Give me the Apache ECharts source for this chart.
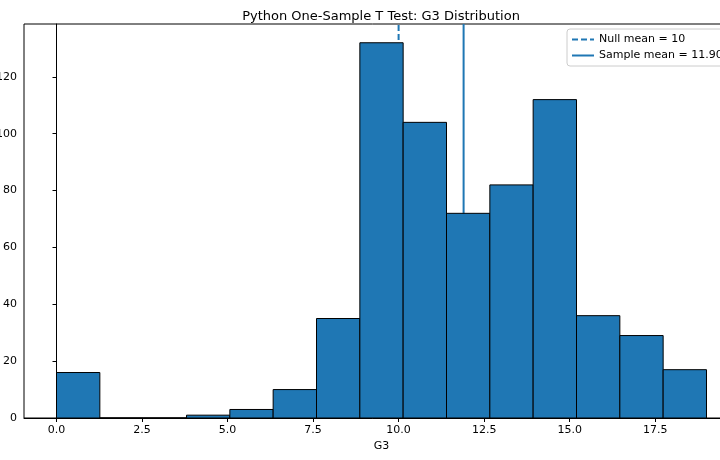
<!DOCTYPE html>
<html>
<head>
<meta charset="utf-8">
<script src="https://cdn.jsdelivr.net/npm/echarts@6/dist/echarts.min.js"></script>
<style>
  html, body { margin: 0; padding: 0; background: #fff; }
  #chart { width: 720px; height: 460px; }
</style>
</head>
<body>
<div id="chart"></div>
<script>
(function () {
  // bin edges and counts of the G3 histogram (15 bins)
  var binEdges = [0, 1.267, 2.533, 3.8, 5.067, 6.333, 7.6, 8.867, 10.133, 11.4, 12.667, 13.933, 15.2, 16.467, 17.733, 19];
  var binCounts = [16, 0, 0, 1, 3, 10, 35, 132, 104, 72, 82, 112, 36, 29, 17];
  var xTicks = [0, 2.5, 5, 7.5, 10, 12.5, 15, 17.5];
  var yTicks = [0, 20, 40, 60, 80, 100, 120];
  var nullMean = 10;
  var sampleMean = 11.9;

  var xMin = -0.95, xMax = 19.95, yMax = 138.6;
  var font = 'DejaVu Sans';

  var bins = [];
  for (var i = 0; i < binCounts.length; i++) {
    bins.push([binEdges[i], binEdges[i + 1], binCounts[i]]);
  }

  var myChart = echarts.init(document.getElementById('chart'));

  var option = {
    animation: false,
    title: {
      text: 'Python One-Sample T Test: G3 Distribution',
      left: 376,
      textAlign: 'center',
      top: 5,
      textStyle: { fontFamily: font, fontSize: 13, fontWeight: 'normal', color: '#000' }
    },
    legend: {
      orient: 'vertical',
      left: 567,
      top: 29,
      padding: [5, 6, 5, 4],
      itemWidth: 22,
      itemHeight: 10,
      itemGap: 5,
      backgroundColor: 'rgba(255,255,255,0.8)',
      borderColor: '#cccccc',
      borderWidth: 1,
      borderRadius: 3,
      itemStyle: { opacity: 0 },
      textStyle: { fontFamily: font, fontSize: 11, color: '#000' },
      data: ['Null mean = 10', 'Sample mean = 11.90']
    },
    grid: {
      left: 24,
      top: 24,
      width: 715,
      height: 394,
      outerBoundsMode: 'none',
      containLabel: false,
      show: true,
      borderColor: '#000',
      borderWidth: 1
    },
    xAxis: {
      type: 'value',
      min: xMin,
      max: xMax,
      name: 'G3',
      nameLocation: 'middle',
      nameGap: 22,
      nameTextStyle: { fontFamily: font, fontSize: 11, color: '#000' },
      axisLine: { show: true, lineStyle: { color: '#000', width: 1 } },
      axisTick: { show: true, length: 4, customValues: xTicks, lineStyle: { color: '#000' } },
      axisLabel: {
        customValues: xTicks,
        margin: 7,
        fontFamily: font, fontSize: 11, color: '#000',
        formatter: function (v) { return v.toFixed(1); }
      },
      splitLine: { show: false }
    },
    yAxis: {
      type: 'value',
      min: 0,
      max: yMax,
      axisLine: { show: true, lineStyle: { color: '#000', width: 1 } },
      axisTick: { show: true, length: 4, customValues: yTicks, lineStyle: { color: '#000' } },
      axisLabel: {
        customValues: yTicks,
        margin: 7,
        fontFamily: font, fontSize: 11, color: '#000'
      },
      splitLine: { show: false }
    },
    series: [
      {
        name: 'Null mean = 10',
        type: 'line',
        z: 1,
        symbol: 'none',
        color: '#1f77b4',
        lineStyle: { color: '#1f77b4', width: 2, type: [6, 3] },
        data: [[nullMean, 0], [nullMean, yMax]]
      },
      {
        name: 'Sample mean = 11.90',
        type: 'line',
        z: 1,
        symbol: 'none',
        color: '#1f77b4',
        lineStyle: { color: '#1f77b4', width: 2 },
        data: [[sampleMean, 0], [sampleMean, yMax]]
      },
      {
        name: 'G3',
        type: 'custom',
        z: 3,
        renderItem: function (params, api) {
          var p0 = api.coord([api.value(0), api.value(2)]);
          var p1 = api.coord([api.value(1), 0]);
          return {
            type: 'rect',
            shape: { x: p0[0], y: p0[1], width: p1[0] - p0[0], height: p1[1] - p0[1] },
            style: { fill: '#1f77b4', stroke: '#000', lineWidth: 1 }
          };
        },
        encode: { x: [0, 1], y: 2 },
        data: bins
      }
    ]
  };

  myChart.setOption(option);

  window.addEventListener('resize', function () {
    myChart.resize();
  });
})();
</script>
</body>
</html>
